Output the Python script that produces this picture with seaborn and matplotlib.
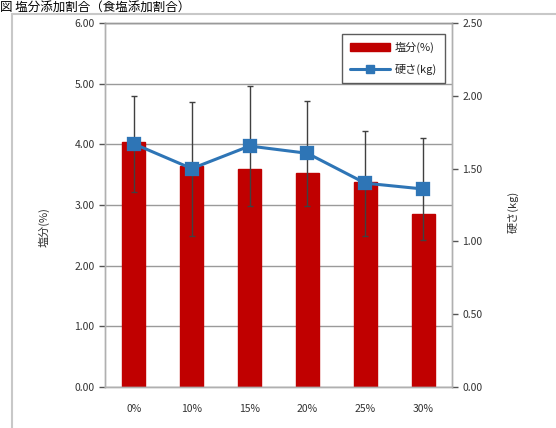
import numpy as np
import matplotlib
matplotlib.use("Agg")
import matplotlib.pyplot as plt
import seaborn as sns
from matplotlib.patches import Rectangle, Patch
from matplotlib.lines import Line2D

# data
categories = ["0%", "10%", "15%", "20%", "25%", "30%"]
salt = [4.04, 3.64, 3.60, 3.53, 3.38, 2.85]          # 塩分(%) left axis
hardness = [1.67, 1.50, 1.655, 1.605, 1.40, 1.36]    # 硬さ(kg) right axis
hardness_err = [0.33, 0.46, 0.41, 0.36, 0.36, 0.35]

sns.set_style("white")
plt.rcParams['font.family'] = ['Noto Sans CJK JP', 'DejaVu Sans']

fig = plt.figure(figsize=(5.56, 4.28), dpi=100)
ax = fig.add_axes([105 / 556, 1 - 387 / 428, 347 / 556, 364 / 428])

# chart frame (light grey) and caption squeezed in at the very top
fig.patches.append(Rectangle((12 / 556, -0.1), 1.1, 1 - 14 / 428 + 0.1,
                             transform=fig.transFigure, fill=False,
                             edgecolor="#c8c8c8", linewidth=1.5))
fig.text(0.0, 1 - 7 / 428, "図 塩分添加割合（食塩添加割合）", fontsize=9,
         ha="left", va="center", color="black")

sns.barplot(x=categories, y=salt, ax=ax, color="#c00000", width=0.4,
            saturation=1, edgecolor="#c00000")
ax.set_ylim(0, 6)
ax.set_yticks(np.arange(0, 6.01, 1))
ax.set_yticklabels([f"{v:.2f}" for v in np.arange(0, 6.01, 1)])
ax.yaxis.grid(True, color="#9a9a9a", linewidth=1)
ax.set_axisbelow(True)
ax.set_xlabel("")
ax.set_ylabel("塩分(%)", fontsize=8, color="#333333")
ax.yaxis.set_label_coords(-0.16, 0.44)

ax2 = ax.twinx()
ax2.errorbar(range(len(categories)), hardness, yerr=hardness_err, fmt="none",
             ecolor="#404040", elinewidth=1, capsize=2.5, capthick=1)
sns.pointplot(x=categories, y=hardness, ax=ax2, color="#2e75b6", markers="s",
              errorbar=None, markersize=8, linewidth=2.2)
ax2.set_ylim(0, 2.5)
ax2.set_yticks(np.arange(0, 2.51, 0.5))
ax2.set_yticklabels([f"{v:.2f}" for v in np.arange(0, 2.51, 0.5)])
ax2.set_xlim(-0.5, len(categories) - 0.5)
ax2.set_ylabel("硬さ(kg)", fontsize=8, color="#333333")
ax2.yaxis.set_label_coords(1.16, 0.48)

for a in (ax, ax2):
    for s in a.spines.values():
        s.set_color("#b0b0b0")
        s.set_linewidth(1)
    a.spines["top"].set_color("#9a9a9a")
    a.tick_params(axis="y", labelsize=7.5, colors="#555555", length=4,
                  width=1, direction="out", labelcolor="#333333")

ax.tick_params(axis="x", length=0, labelsize=7.5, labelcolor="#333333", pad=12)
ax.set_xticks(np.arange(-0.5, len(categories), 1), minor=True)
ax.tick_params(axis="x", which="minor", length=4, color="#b0b0b0",
               direction="out")

handles = [Patch(facecolor="#c00000", edgecolor="#c00000"),
           Line2D([0], [0], color="#2e75b6", marker="s", linewidth=2.2,
                  markersize=6)]
leg = ax2.legend(handles, ["塩分(%)", "硬さ(kg)"], loc="upper right",
                 bbox_to_anchor=(0.995, 0.985), fontsize=8, frameon=True,
                 fancybox=False, edgecolor="#333333", handlelength=3.6,
                 borderpad=0.7, labelspacing=1.0, handletextpad=0.4)
leg.get_frame().set_linewidth(1)

fig.savefig("out.png", dpi=100)
